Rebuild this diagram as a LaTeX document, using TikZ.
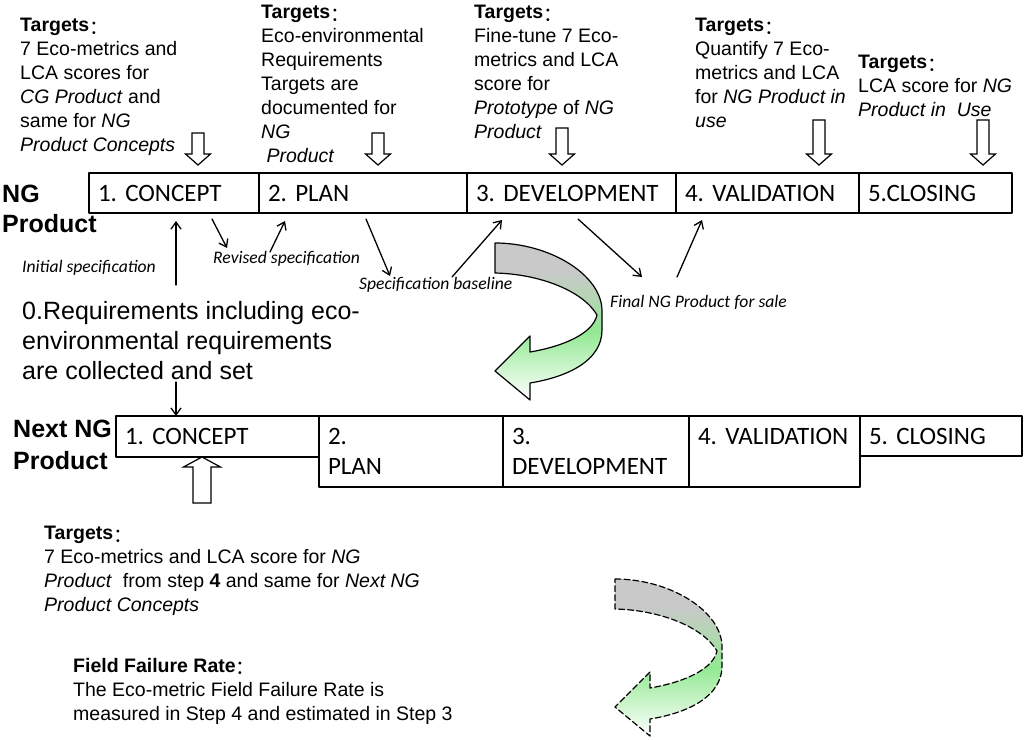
\documentclass[tikz,border=0pt]{standalone}
\usepackage{fontspec}
\setmainfont{Liberation Sans}
\newfontfamily\calibri{Carlito}
\newfontfamily\cjk{Noto Sans CJK SC}
\usetikzlibrary{arrows.meta}
\definecolor{ribbongray}{RGB}{200,201,200}
\definecolor{ribbongreen}{RGB}{146,232,146}
\pgfdeclareverticalshading{ribbonshade}{100bp}{color(0bp)=(white); color(25bp)=(white);
  color(47bp)=(ribbongreen); color(56bp)=(ribbongray!55!ribbongreen); color(66bp)=(ribbongray); color(100bp)=(ribbongray)}
\newcommand{\tgt}[1]{\textbf{#1}\raisebox{-2.5pt}{\cjk ：}}
\frenchspacing
\tikzset{
  phase/.style={draw, line width=1.3pt, anchor=north west, outer sep=0pt, inner xsep=9pt, inner ysep=0pt,
    align=left, text width=#1, font=\calibri\fontsize{25}{30}\selectfont},
  target/.style={anchor=north west, inner sep=0pt, align=left, font=\fontsize{19.5}{24}\selectfont},
  rowlabel/.style={anchor=north west, inner sep=0pt, align=left, font=\bfseries\fontsize{25}{#1}\selectfont},
  speclabel/.style={anchor=west, inner sep=0pt, font=\calibri\itshape\fontsize{17.6}{20}\selectfont},
  blockarrow/.style={draw, line width=1.2pt, fill=white, line join=miter},
  dashed ribbon/.style={dash pattern=on 6pt off 3pt},
  pics/ribbon/.style={code={
    \draw[line width=1.2pt, shading=ribbonshade]
      (0,0) .. controls (55,0) and (107,32) .. (107,68) -- (107,87)
      .. controls (107,118) and (72,134) .. (35,140) -- (35,157) -- (0,128) -- (35,93) -- (35,109)
      .. controls (70,103) and (98,90) .. (102,72)
      .. controls (88,48) and (45,31) .. (0,30) -- cycle;
  }}
}
\begin{document}
\begin{tikzpicture}[x=1pt, y=-1pt, line cap=round, line join=round, >={Straight Barb[length=7pt,width=10pt]}]
  \useasboundingbox (0,0) rectangle (1024,739);

  % NG Product row
  \node[rowlabel=30] (ng) at (2,185) {NG\\Product};
  \node[phase=152pt, minimum height=40pt] (c1) at (89,173) {1. CONCEPT};
  \node[phase=190pt, minimum height=40pt] (p1) at (c1.north east) {2. PLAN};
  \node[phase=191pt, minimum height=40pt] (d1) at (p1.north east) {3. DEVELOPMENT};
  \node[phase=165pt, minimum height=40pt] (v1) at (d1.north east) {4. VALIDATION};
  \node[phase=135pt, minimum height=40pt] (s1) at (v1.north east) {5.CLOSING};

  % targets above the phases
  \node[target] (t1) at (20,18) {\tgt{Targets}\\7 Eco-metrics and\\LCA scores for\\\textit{CG Product} and\\same for \textit{NG}\\\textit{Product Concepts}};
  \node[target] (t2) at (261,5) {\tgt{Targets}\\Eco-environmental\\Requirements\\Targets are\\documented for\\\textit{NG}\\\ \textit{Product}};
  \node[target] (t3) at (474,5) {\tgt{Targets}\\Fine-tune 7 Eco-\\metrics and LCA\\score for\\\textit{Prototype} of \textit{NG}\\\textit{Product}};
  \node[target] (t4) at (695,18) {\tgt{Targets}\\Quantify 7 Eco-\\metrics and LCA\\for \textit{NG Product in}\\\textit{use}};
  \node[target] (t5) at (858,55) {\tgt{Targets}\\LCA score for \textit{NG}\\\textit{Product in\ \ Use}};
  \foreach \x/\y in {198/133, 378/133, 562/128, 819/120, 983/120}
    \draw[blockarrow] (\x-6,\y) -- (\x+6,\y) -- (\x+6,154) -- (\x+12.5,154) -- (\x,165) -- (\x-12.5,154) -- (\x-6,154) -- cycle;

  % specification flow
  \node[speclabel] (initL) at (22,268) {Initial specification};
  \node[speclabel] (revL) at (213,259) {Revised specification};
  \node[speclabel] (baseL) at (359,285) {Specification baseline};
  \node[speclabel] (finalL) at (610,302) {Final NG Product for sale};
  \coordinate (initout) at (176,285);
  \coordinate (c1in) at (176,221);
  \coordinate (c1out) at (212,219);
  \coordinate (revin) at (227,248);
  \coordinate (revout) at (270,252);
  \coordinate (p1in) at (285,221);
  \coordinate (p1out) at (366,219);
  \coordinate (basein) at (390,276);
  \coordinate (baseout) at (452,277);
  \coordinate (d1in) at (502,220);
  \coordinate (d1out) at (578,219);
  \coordinate (finalin) at (642,277);
  \coordinate (finalout) at (677,277);
  \coordinate (v1in) at (702,220);
  \foreach \a/\b in {initout/c1in, c1out/revin, revout/p1in, p1out/basein, baseout/d1in, d1out/finalin, finalout/v1in}
    \draw[->, line width=1.3pt] (\a) -- (\b);

  \node[target, font=\fontsize{25}{30}\selectfont] (req) at (22,301) {0.Requirements including eco-\\environmental requirements\\are collected and set};
  \coordinate (reqout) at (176,382);

  \pic at (495,243) {ribbon};

  % Next NG Product row
  \node[rowlabel=32] (next) at (13,420) {Next NG\\Product};
  \node[phase=185pt, minimum height=41pt] (c2) at (116,416) {1. CONCEPT};
  \node[phase=166pt, minimum height=71pt] (p2) at (c2.north east) {2.\\PLAN};
  \node[phase=168pt, minimum height=71pt] (d2) at (p2.north east) {3.\\DEVELOPMENT};
  \node[phase=153pt, minimum height=71pt] (v2) at (d2.north east) {4. VALIDATION\\\mbox{}};
  \node[phase=144pt, minimum height=40pt] (s2) at (v2.north east) {5. CLOSING};
  \draw[->, line width=1.3pt] (reqout) -- (reqout |- c2.north);
  \draw[blockarrow] (c2.south -| 202,0) -- (220.5,467) -- (211,467) -- (211,503) -- (193,503) -- (193,467) -- (183.5,467) -- cycle;

  % bottom notes
  \node[target] (t6) at (44,526) {\tgt{Targets}\\7 Eco-metrics and LCA score for \textit{NG}\\\textit{Product}\ \ from step \textbf{4} and same for \textit{Next NG}\\\textit{Product Concepts}};
  \node[target] (ffr) at (73,658) {\tgt{Field Failure Rate}\\The Eco-metric Field Failure Rate is\\measured in Step 4 and estimated in Step 3};
  \pic[dashed ribbon] at (615,579) {ribbon};
\end{tikzpicture}
\end{document}
